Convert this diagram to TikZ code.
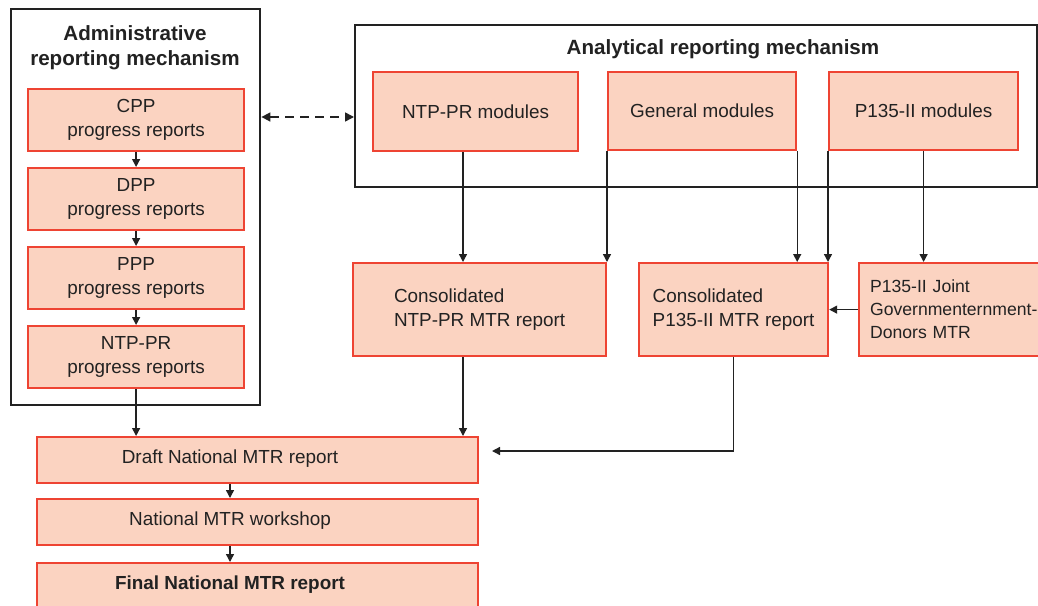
\documentclass[tikz,border=0pt]{standalone}
\usepackage{fontspec}
\setmainfont{Liberation Sans}
\usetikzlibrary{arrows.meta}
\definecolor{peach}{HTML}{FBD3C1}
\definecolor{redb}{HTML}{EE4433}
\definecolor{ink}{HTML}{222222}
\begin{document}
\begin{tikzpicture}[x=1pt,y=-1pt,
  box/.style={draw=redb, fill=peach, line width=2.2pt, anchor=north west, inner sep=0pt,
    font=\fontsize{18.9}{24}\selectfont, text=ink, align=center},
  lbl/.style={font=\fontsize{18.9}{24}\selectfont, text=ink, inner sep=0pt},
  outer/.style={draw=ink, line width=2.4pt, anchor=north west, inner sep=0pt},
  ttl/.style={font=\bfseries\fontsize{20.6}{25}\selectfont, text=ink, align=center, inner sep=0pt},
  arr/.style={-{Triangle[width=8pt,length=8pt]}, line width=1.4pt, draw=ink},
  darr/.style={{Triangle[width=9pt,length=9pt]}-{Triangle[width=9pt,length=9pt]}, line width=1.6pt, draw=ink, dash pattern=on 9pt off 6pt}
]
\useasboundingbox (0,0) rectangle (1038,605);
\clip (0,0) rectangle (1038,605);
\fill[white] (0,0) rectangle (1038,605);

% outer frames
\node[outer, minimum width=249pt, minimum height=396pt] (admin) at (10,8) {};
\node[ttl] (admintitle) at (135,48) {Administrative\\reporting mechanism};
\node[outer, minimum width=682pt, minimum height=162pt] (anal) at (354,24) {};
\node[ttl] (analtitle) at (723,49) {Analytical reporting mechanism};

% administrative chain
\node[box, minimum width=216pt, minimum height=62pt] (cpp) at (27,88) {CPP\\progress reports};
\node[box, minimum width=216pt, minimum height=62pt] (dpp) at (27,167) {DPP\\progress reports};
\node[box, minimum width=216pt, minimum height=62pt] (ppp) at (27,246) {PPP\\progress reports};
\node[box, minimum width=216pt, minimum height=62pt] (ntppr) at (27,325) {NTP-PR\\progress reports};

% modules
\node[box, minimum width=205pt, minimum height=79pt] (ntpmod) at (372,71) {NTP-PR modules};
\node[box, minimum width=188pt, minimum height=78pt] (genmod) at (607,71) {General modules};
\node[box, minimum width=189pt, minimum height=78pt] (pmod) at (828,71) {P135-II modules};

% consolidated
\node[box, minimum width=253pt, minimum height=93pt, align=left] (cntp) at (352,262) {Consolidated\\NTP-PR MTR report};
\node[box, minimum width=189pt, minimum height=93pt, align=left] (cp) at (638,262) {Consolidated\\P135-II MTR report};
\node[box, minimum height=93pt, inner xsep=11pt, text width=210pt, align=left,
  font=\fontsize{17.6}{23}\selectfont] (joint) at (858,262) {P135-II Joint\\Governmenternment-\\Donors MTR};

% national
\node[box, minimum width=441pt, minimum height=46pt] (draft) at (36,436) {};
\node[lbl] (drafttext) at (230,459) {Draft National MTR report};
\node[box, minimum width=441pt, minimum height=46pt] (work) at (36,498) {};
\node[lbl] (worktext) at (230,521) {National MTR workshop};
\node[box, minimum width=441pt, minimum height=60pt] (final) at (36,562) {};
\node[lbl, font=\bfseries\fontsize{18.9}{24}\selectfont] (finaltext) at (230,585) {Final National MTR report};

% helper coordinates
\coordinate (cx) at (463,0);
\coordinate (dy) at (300,117);
\coordinate (pend) at (492,451);

% connectors
\draw[arr] (cpp) -- (dpp);
\draw[arr] (dpp) -- (ppp);
\draw[arr] (ppp) -- (ntppr);
\draw[darr] (admin.east |- dy) -- (anal.west |- dy);
\draw[arr] (ntpmod.south -| cx) -- (cntp.north -| cx);
\draw[arr] (genmod.south west) -- (genmod.south west |- cntp.north);
\draw[arr] (genmod.south east) -- (genmod.south east |- cp.north);
\draw[arr] (pmod.south west) -- (pmod.south west |- cp.north);
\draw[arr] (pmod.south) -- (pmod.south |- joint.north);
\draw[arr] (joint.west) -- (cp.east);
\draw[arr] (ntppr.south) -- (ntppr.south |- draft.north);
\draw[arr] (cntp.south -| cx) -- (draft.north -| cx);
\draw[arr] (cp.south) |- (pend);
\draw[arr] (draft.south -| drafttext) -- (work.north -| drafttext);
\draw[arr] (work.south -| worktext) -- (final.north -| worktext);
\end{tikzpicture}
\end{document}
